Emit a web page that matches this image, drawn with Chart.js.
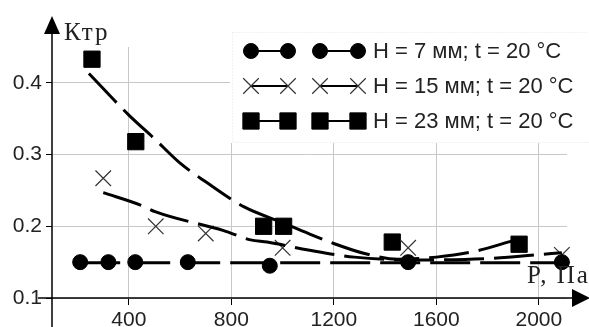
<!DOCTYPE html>
<html>
<head>
<meta charset="utf-8">
<script src="https://cdn.jsdelivr.net/npm/chart.js@4.4.0/dist/chart.umd.min.js"></script>
<style>
  html, body { margin: 0; padding: 0; background: #fff; }
  canvas { display: block; }
</style>
</head>
<body>
<canvas id="ktr-chart" width="589" height="327"></canvas>
<script>
// measured points
var h7P = [210, 320, 425, 630, 950, 1490, 2090];
var h7K = [0.15, 0.15, 0.15, 0.15, 0.145, 0.15, 0.15];

var h15P = [300, 505, 700, 1000, 1490, 2090];
var h15K = [0.267, 0.2, 0.19, 0.17, 0.17, 0.16];

var h23P = [256, 427, 926, 1004, 1428, 1923];
var h23K = [0.433, 0.318, 0.2, 0.2, 0.178, 0.175];

// trend curves
var h7TrendP = [210, 2100];
var h7TrendK = [0.149, 0.149];

var h15TrendP = [300, 450, 505, 770, 875, 940, 1100, 1280, 1500, 1800, 2050, 2090];
var h15TrendK = [0.247, 0.229, 0.22, 0.194, 0.181, 0.178, 0.167, 0.157, 0.153, 0.155, 0.162, 0.163];

var h23TrendP = [244, 400, 500, 600, 700, 850, 1000, 1100, 1200, 1320, 1450, 1600, 1750, 1900];
var h23TrendK = [0.413, 0.355, 0.322, 0.288, 0.262, 0.227, 0.205, 0.19, 0.176, 0.162, 0.154, 0.157, 0.165, 0.18];

var xTicks = [400, 800, 1200, 1600, 2000];
var yTicks = [0.1, 0.2, 0.3, 0.4];

var legendLabels = ["H = 7 мм; t = 20 °C", "H = 15 мм; t = 20 °C", "H = 23 мм; t = 20 °C"];

function pairs(xs, ys) {
  return xs.map(function (x, i) { return { x: x, y: ys[i] }; });
}

var markerStyles = [
  { pointStyle: "circle", radius: 7.5, borderWidth: 1, fill: "#000", stroke: "#000" },
  { pointStyle: "crossRot", radius: 11, borderWidth: 1.2, fill: "#333", stroke: "#333" },
  { pointStyle: "rect", radius: 11.5, borderWidth: 1, fill: "#000", stroke: "#000" },
];

function markerSet(label, xs, ys, st) {
  return {
    label: label,
    data: pairs(xs, ys),
    showLine: false,
    pointStyle: st.pointStyle,
    pointRadius: st.radius,
    pointBorderWidth: st.borderWidth,
    pointBackgroundColor: st.fill,
    pointBorderColor: st.stroke,
    clip: false,
  };
}

function trendSet(xs, ys) {
  return {
    data: pairs(xs, ys),
    showLine: true,
    borderColor: "#000",
    borderWidth: 3,
    borderDash: [40, 10],
    pointRadius: 0,
    cubicInterpolationMode: "monotone",
    fill: false,
  };
}

var tickFont = { family: "Liberation Sans", size: 21 };

// axes with arrows, titles and the boxed legend
var decorPlugin = {
  id: "decor",
  afterDraw: function (chart) {
    var ctx = chart.ctx;
    var area = chart.chartArea;
    var ax = area.left, ay = area.bottom;
    ctx.save();

    // legend box
    ctx.fillStyle = "#fff";
    ctx.fillRect(230, 32, 359, 111);
    ctx.strokeStyle = "#e4e4e4";
    ctx.lineWidth = 1;
    ctx.setLineDash([1, 2]);
    ctx.strokeRect(232.5, 32.5, 360, 110);
    ctx.setLineDash([]);

    var rows = [51, 86, 121];
    var iconX = [[251, 288], [320, 358]];
    for (var i = 0; i < 3; i++) {
      var st = markerStyles[i];
      for (var k = 0; k < 2; k++) {
        ctx.strokeStyle = "#000";
        ctx.lineWidth = 2;
        ctx.beginPath();
        ctx.moveTo(iconX[k][0], rows[i]);
        ctx.lineTo(iconX[k][1], rows[i]);
        ctx.stroke();
        for (var m = 0; m < 2; m++) {
          ctx.fillStyle = st.fill;
          ctx.strokeStyle = st.stroke;
          ctx.lineWidth = st.borderWidth;
          Chart.helpers.drawPoint(ctx, { pointStyle: st.pointStyle, radius: st.radius, rotation: 0, borderWidth: st.borderWidth }, iconX[k][m], rows[i]);
        }
      }
      ctx.fillStyle = "#222";
      ctx.font = "22px 'Liberation Sans'";
      ctx.textBaseline = "middle";
      ctx.textAlign = "left";
      ctx.fillText(legendLabels[i], 373, rows[i] + 1);
    }

    // axis lines
    ctx.strokeStyle = "#000";
    ctx.lineWidth = 1.5;
    ctx.beginPath();
    ctx.moveTo(ax, 327);
    ctx.lineTo(ax, 30);
    ctx.moveTo(38, ay);
    ctx.lineTo(576, ay);
    ctx.stroke();
    ctx.fillStyle = "#000";
    ctx.beginPath();
    ctx.moveTo(ax, 16);
    ctx.lineTo(ax - 8, 34);
    ctx.lineTo(ax + 8, 34);
    ctx.closePath();
    ctx.fill();
    ctx.beginPath();
    ctx.moveTo(590, ay);
    ctx.lineTo(572, ay - 9);
    ctx.lineTo(572, ay + 9);
    ctx.closePath();
    ctx.fill();

    // axis titles
    ctx.fillStyle = "#222";
    ctx.font = "25px 'Liberation Serif'";
    ctx.letterSpacing = "2px";
    ctx.textBaseline = "alphabetic";
    ctx.textAlign = "left";
    ctx.fillText("Ктр", 64, 40);
    ctx.fillText("P, Па", 527, 283);
    ctx.restore();
  },
};

var ctx = document.getElementById("ktr-chart").getContext("2d");

new Chart(ctx, {
  type: "scatter",
  data: {
    datasets: [
      trendSet(h7TrendP, h7TrendK),
      trendSet(h15TrendP, h15TrendK),
      trendSet(h23TrendP, h23TrendK),
      markerSet(legendLabels[0], h7P, h7K, markerStyles[0]),
      markerSet(legendLabels[1], h15P, h15K, markerStyles[1]),
      markerSet(legendLabels[2], h23P, h23K, markerStyles[2]),
    ],
  },
  options: {
    responsive: false,
    animation: false,
    layout: { padding: { top: 47, right: 22, left: 0, bottom: 0 } },
    plugins: {
      legend: { display: false },
      tooltip: { enabled: false },
    },
    scales: {
      x: {
        type: "linear",
        min: 100,
        max: 2110,
        afterBuildTicks: function (s) { s.ticks = xTicks.map(function (v) { return { value: v }; }); },
        afterFit: function (s) { s.height = 29; },
        border: { display: false },
        grid: { color: "#c8c8c8", lineWidth: 1, tickColor: "#000", tickLength: 7 },
        ticks: {
          font: tickFont,
          color: "#222",
          padding: 3,
          maxRotation: 0,
          autoSkip: false,
          callback: function (v) { return String(v); },
        },
      },
      y: {
        type: "linear",
        min: 0.1,
        max: 0.45,
        afterBuildTicks: function (s) { s.ticks = yTicks.map(function (v) { return { value: v }; }); },
        afterFit: function (s) { s.width = 52; },
        border: { display: false },
        grid: { color: "#c8c8c8", lineWidth: 1, tickColor: "#000", tickLength: 6 },
        ticks: {
          font: tickFont,
          color: "#222",
          padding: 4,
          callback: function (v) { return v.toFixed(1); },
        },
      },
    },
  },
  plugins: [decorPlugin],
});
</script>
</body>
</html>
